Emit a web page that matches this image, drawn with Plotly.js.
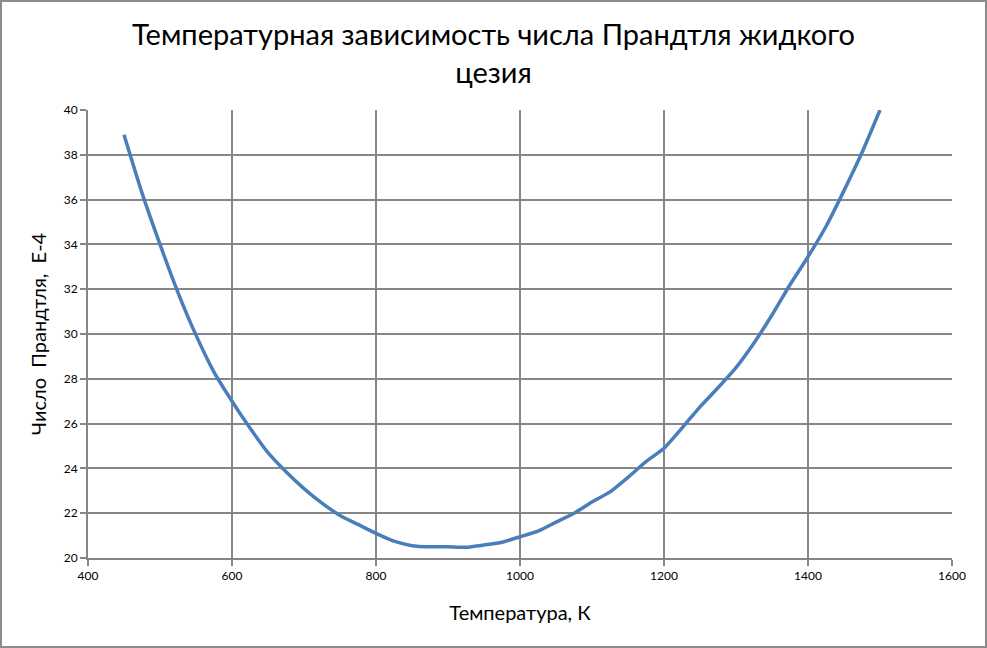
<!DOCTYPE html>
<html><head><meta charset="utf-8">
<script src="https://cdn.plot.ly/plotly-3.0.1.min.js"></script>
<style>
html,body{margin:0;padding:0;background:#fff;}
#wrap{width:987px;height:648px;box-sizing:border-box;border:2px solid #8c8c8c;position:relative;overflow:hidden;}
#chart{width:983px;height:644px;}
</style></head>
<body><div id="wrap"><div id="chart"></div></div>
<script>
const temperature = [450,475,500,525,550,575,600,625,650,675,700,725,750,775,800,825,850,875,900,925,950,975,1000,1025,1050,1075,1100,1125,1150,1175,1200,1225,1250,1275,1300,1325,1350,1375,1400,1425,1450,1475,1500];
const prandtl = [38.9,36.3,34.0,31.85,29.95,28.3,27.0,25.8,24.7,23.85,23.1,22.45,21.9,21.5,21.1,20.75,20.55,20.5,20.5,20.48,20.58,20.7,20.95,21.2,21.6,22.0,22.5,22.95,23.6,24.3,24.9,25.8,26.75,27.6,28.5,29.6,30.85,32.2,33.45,34.8,36.4,38.1,40.0];
const titleText = "Температурная зависимость числа Прандтля жидкого<br>цезия";
const xTitle = "Температура, К";
const yTitle = "Число  Прандтля,  E-4";

const font = "Lato, 'Open Sans', sans-serif";
Plotly.newPlot('chart', [{
  x: temperature, y: prandtl, type: 'scatter', mode: 'lines',
  line: {color: '#4a7ebb', width: 3.5, shape: 'spline', smoothing: 0.5},
  hoverinfo: 'skip'
}], {
  width: 983, height: 644,
  margin: {l: 86, r: 33, t: 108, b: 88},
  paper_bgcolor: '#fff', plot_bgcolor: '#fff',
  showlegend: false,
  font: {family: font, color: '#000'},
  title: {text: titleText, font: {size: 29, family: font, color: '#000'}, x: 0.5, xanchor: 'center', xref: 'container', yref: 'container', y: 0.933, yanchor: 'middle'},
  xaxis: {
    range: [400, 1600], dtick: 200, tick0: 400,
    showgrid: true, gridcolor: '#868686', gridwidth: 2,
    showline: true, linecolor: '#868686', linewidth: 2, mirror: false,
    ticks: 'outside', ticklen: 6, tickwidth: 2, tickcolor: '#868686',
    tickfont: {size: 12, family: font, color: '#000'},
    zeroline: false,
    title: {text: xTitle, font: {size: 20, family: font, color: '#000'}, standoff: 24}
  },
  yaxis: {
    range: [20, 40], dtick: 2, tick0: 20,
    showgrid: true, gridcolor: '#868686', gridwidth: 2,
    showline: true, linecolor: '#868686', linewidth: 2,
    ticks: 'outside', ticklen: 6, tickwidth: 2, tickcolor: '#868686',
    tickfont: {size: 12, family: font, color: '#000'},
    zeroline: false,
    title: {text: yTitle, font: {size: 20, family: font, color: '#000'}, standoff: 12}
  }
}, {displayModeBar: false, staticPlot: true});
</script></body></html>
